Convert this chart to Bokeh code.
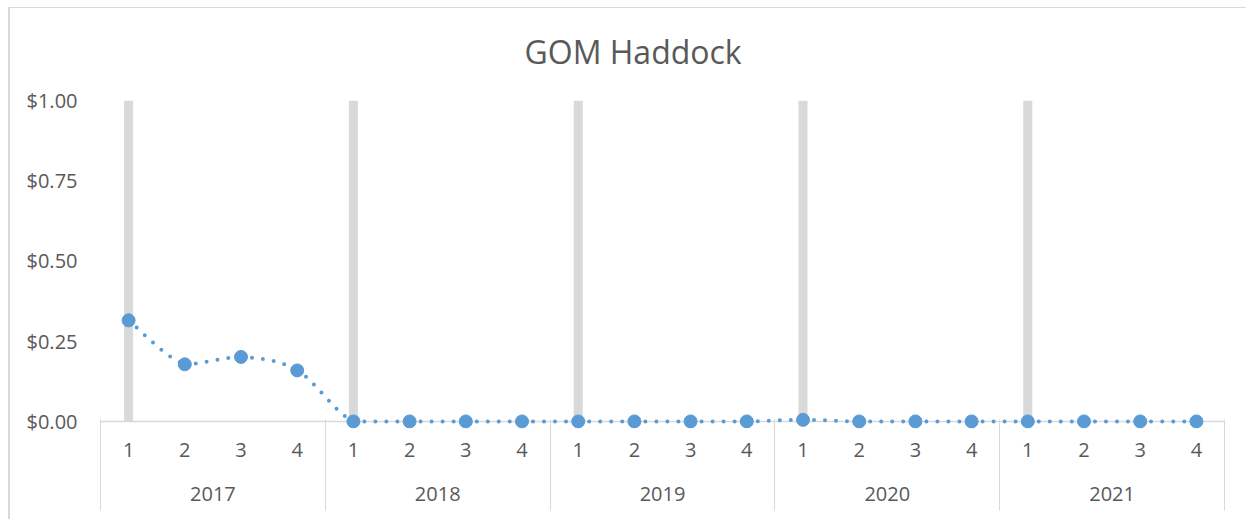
from bokeh.plotting import figure
from bokeh.models import (FixedTicker, LinearAxis, Span, NumeralTickFormatter,
                          ColumnDataSource, Title)
from bokeh.embed import file_html
from bokeh.resources import INLINE

# ---- data ----
title_text = "GOM Haddock"
years = ["2017", "2018", "2019", "2020", "2021"]
point_year = ["2017", "2017", "2017", "2017",
              "2018", "2018", "2018", "2018",
              "2019", "2019", "2019", "2019",
              "2020", "2020", "2020", "2020",
              "2021", "2021", "2021", "2021"]
quarter_labels = ["1", "2", "3", "4", "1", "2", "3", "4", "1", "2", "3", "4",
                  "1", "2", "3", "4", "1", "2", "3", "4"]
price = [0.315, 0.178, 0.201, 0.159,
         0.0, 0.0, 0.0, 0.0,
         0.0, 0.0, 0.0, 0.0,
         0.005, 0.0, 0.0, 0.0,
         0.0, 0.0, 0.0, 0.0]
year_bar = [1.0, 0.0, 0.0, 0.0,
            1.0, 0.0, 0.0, 0.0,
            1.0, 0.0, 0.0, 0.0,
            1.0, 0.0, 0.0, 0.0,
            1.0, 0.0, 0.0, 0.0]
y_ticks = [0.0, 0.25, 0.5, 0.75, 1.0]

TEXT = "#595959"
GRAY = "#d9d9d9"
BLUE = "#5B9BD5"
FONT = "Open Sans"

n = len(price)
xs = list(range(1, n + 1))

# group geometry derived from categories
year_centers = []
separators = [xs[0] - 0.5]
for yr in years:
    idx = [x for x, py in zip(xs, point_year) if py == yr]
    year_centers.append(sum(idx) / len(idx))
    separators.append(idx[-1] + 0.5)

# smoothed line segments (bezier control points, clamped to avoid overshoot)
seg = dict(x0=[], y0=[], x1=[], y1=[], cx0=[], cy0=[], cx1=[], cy1=[])
for i in range(n - 1):
    a = i - 1 if i > 0 else i
    d = i + 2 if i + 2 < n else i + 1
    lo, hi = min(price[i], price[i + 1]), max(price[i], price[i + 1])
    c0 = price[i] + (price[i + 1] - price[a]) / 6
    c1 = price[i + 1] - (price[d] - price[i]) / 6
    seg["x0"].append(xs[i]); seg["y0"].append(price[i])
    seg["x1"].append(xs[i + 1]); seg["y1"].append(price[i + 1])
    seg["cx0"].append(xs[i] + (xs[i + 1] - xs[a]) / 6)
    seg["cy0"].append(min(max(c0, lo), hi))
    seg["cx1"].append(xs[i + 1] - (xs[d] - xs[i]) / 6)
    seg["cy1"].append(min(max(c1, lo), hi))

p = figure(width=1238, height=512,
           x_range=(xs[0] - 0.5, xs[-1] + 0.5), y_range=(-0.022, 1.0),
           x_axis_type=None, output_backend="svg", toolbar_location=None,
           min_border_left=90, min_border_right=24, min_border_top=92,
           min_border_bottom=92)
p.styles = {"margin-left": "8px", "margin-top": "7px",
            "border-top": "1px solid #d9d9d9", "border-left": "2px solid #d9d9d9"}
p.outline_line_color = None
p.ygrid.visible = False
p.background_fill_color = "white"
p.border_fill_color = "white"

# titles: a thin spacer next to the plot area, the chart title above it
p.title = None
p.add_layout(Title(text=" ", text_font_size="2px", standoff=6), "above")
main_title = Title(text=title_text, text_font=FONT, text_font_size="32px",
                   text_font_style="normal", text_color=TEXT,
                   align="left", offset=424, standoff=35)
p.add_layout(main_title, "above")

# y axis
ya = p.yaxis[0]
ya.ticker = FixedTicker(ticks=y_ticks)
ya.formatter = NumeralTickFormatter(format="$0.00")
ya.axis_line_color = None
ya.major_tick_line_color = None
ya.major_tick_out = 0
ya.major_tick_in = 0
ya.minor_tick_line_color = None
ya.minor_tick_out = 0
ya.major_label_text_font = FONT
ya.major_label_text_font_size = "20px"
ya.major_label_text_color = TEXT
ya.major_label_standoff = 23

def plain_axis(axis, standoff):
    axis.axis_line_color = None
    axis.major_tick_line_color = None
    axis.major_tick_out = 0
    axis.major_tick_in = 0
    axis.minor_tick_line_color = None
    axis.minor_tick_out = 0
    axis.minor_tick_in = 0
    axis.major_label_text_font = FONT
    axis.major_label_text_font_size = "20px"
    axis.major_label_text_color = TEXT
    axis.major_label_standoff = standoff

# quarter axis
qa = LinearAxis(ticker=FixedTicker(ticks=xs),
                major_label_overrides={x: q for x, q in zip(xs, quarter_labels)})
plain_axis(qa, 14)
p.add_layout(qa, "below")

# year axis
yax = LinearAxis(ticker=FixedTicker(ticks=year_centers),
                 major_label_overrides={c: yr for c, yr in zip(year_centers, years)})
plain_axis(yax, 27)
p.add_layout(yax, "below")

# separator axis: year boundaries drawn as long inward ticks
sa = LinearAxis(ticker=FixedTicker(ticks=[], minor_ticks=separators))
plain_axis(sa, 0)
sa.minor_tick_line_color = GRAY
sa.minor_tick_line_width = 1
sa.minor_tick_in = 84
sa.minor_tick_out = 7
p.add_layout(sa, "below")

# baseline
p.add_layout(Span(location=0, dimension="width", line_color=GRAY, line_width=1.5,
                  level="underlay"))

# year marker bars
p.vbar(x=xs, top=year_bar, width=0.16, bottom=0, fill_color=GRAY, line_color=None)

# smoothed dotted line + markers
p.bezier(source=ColumnDataSource(seg), x0="x0", y0="y0", x1="x1", y1="y1",
         cx0="cx0", cy0="cy0", cx1="cx1", cy1="cy1",
         line_color=BLUE, line_width=4, line_dash="0 11", line_cap="round")
p.scatter(xs, price, size=13, color=BLUE)

open("out.html", "w").write(file_html(p, INLINE))
